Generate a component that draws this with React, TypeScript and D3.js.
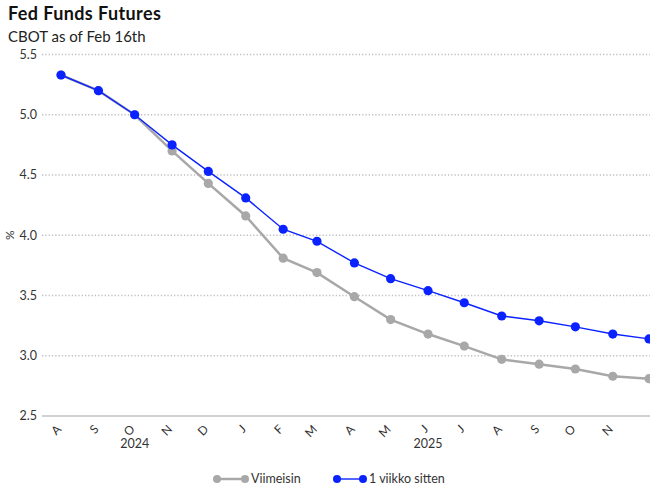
import React from "react";
import * as d3 from "d3";

// monthly contract dates (first of month)
const months = [
  "2024-08-01", "2024-09-01", "2024-10-01", "2024-11-01", "2024-12-01",
  "2025-01-01", "2025-02-01", "2025-03-01", "2025-04-01", "2025-05-01",
  "2025-06-01", "2025-07-01", "2025-08-01", "2025-09-01", "2025-10-01",
  "2025-11-01", "2025-12-01",
];

const latest = [
  5.33, 5.2, 5.0, 4.7, 4.43, 4.16, 3.81, 3.69, 3.49, 3.3, 3.18, 3.08, 2.97,
  2.93, 2.89, 2.83, 2.81,
];

const weekAgo = [
  5.33, 5.2, 5.0, 4.75, 4.53, 4.31, 4.05, 3.95, 3.77, 3.64, 3.54, 3.44, 3.33,
  3.29, 3.24, 3.18, 3.14,
];

const yTicks = [2.5, 3.0, 3.5, 4.0, 4.5, 5.0, 5.5];
const monthTicks = months.slice(0, 16);
const yearLabels = [
  { label: "2024", date: "2024-10-01" },
  { label: "2025", date: "2025-06-01" },
];

const seriesNames = ["Viimeisin", "1 viikko sitten"];
const GRAY = "#a8a8a8";
const BLUE = "#0a22ff";

const width = 666;
const height = 500;
const font = "Lato, 'Open Sans', sans-serif";

const parse = d3.timeParse("%Y-%m-%d");

export default function App() {
  const dates = months.map(d => parse(d) as Date);

  const x = d3.scaleTime()
    .domain([dates[0], dates[dates.length - 1]])
    .range([61, 649]);

  const y = d3.scaleLinear().domain([2.5, 5.5]).range([416, 54.5]);

  const line = d3.line<number>()
    .x((_, i) => x(dates[i]))
    .y(d => y(d));

  const monthFmt = d3.timeFormat("%b");

  return (
    <svg
      width={width}
      height={height}
      style={{ position: "absolute", left: 0, top: 0, fontFamily: font }}
    >
      <defs>
        <clipPath id="plot">
          <rect x={0} y={0} width={650} height={height} />
        </clipPath>
      </defs>

      <text x={8} y={20} fontSize={18} fontWeight={700} letterSpacing={0.4} fill="#111">
        Fed Funds Futures
      </text>
      <text x={8} y={42} fontSize={15} fill="#222">
        CBOT as of Feb 16th
      </text>

      {/* grid */}
      {yTicks.map(t => (
        <g key={t}>
          <line
            x1={42}
            x2={650}
            y1={y(t)}
            y2={y(t)}
            stroke={t === 2.5 ? "#d2d2d2" : "#c0c0c0"}
            strokeWidth={t === 2.5 ? 2 : 1.3}
            strokeDasharray={t === 2.5 ? undefined : "1.3,2"}
          />
          <text
            x={37}
            y={y(t)}
            dy="0.35em"
            textAnchor="end"
            fontSize={12.5}
            fill="#333"
          >
            {t.toFixed(1)}
          </text>
        </g>
      ))}

      <text
        transform={`translate(14,${y(4)}) rotate(-90)`}
        textAnchor="middle"
        fontSize={12}
        fill="#333"
      >
        %
      </text>

      {/* x axis */}
      {monthTicks.map(m => {
        const d = parse(m) as Date;
        return (
          <text
            key={m}
            transform={`translate(${x(d) + 1},430) rotate(-45)`}
            textAnchor="end"
            fontSize={12}
            fill="#333"
          >
            {monthFmt(d)[0]}
          </text>
        );
      })}
      {yearLabels.map(yl => (
        <text
          key={yl.label}
          x={x(parse(yl.date) as Date)}
          y={448}
          textAnchor="middle"
          fontSize={12.5}
          fill="#333"
        >
          {yl.label}
        </text>
      ))}

      {/* series */}
      <g clipPath="url(#plot)">
        <path d={line(latest) ?? ""} fill="none" stroke={GRAY} strokeWidth={2.5} />
        {latest.map((v, i) => (
          <circle key={i} cx={x(dates[i])} cy={y(v)} r={4.6} fill={GRAY} />
        ))}
        <path d={line(weekAgo) ?? ""} fill="none" stroke={BLUE} strokeWidth={1.4} />
        {weekAgo.map((v, i) => (
          <circle key={i} cx={x(dates[i])} cy={y(v)} r={4.6} fill={BLUE} />
        ))}
      </g>

      {/* legend */}
      <g fontSize={12.5} fill="#333">
        <line x1={217} x2={245} y1={479} y2={479} stroke={GRAY} strokeWidth={2.5} />
        <circle cx={217} cy={479} r={4} fill={GRAY} />
        <circle cx={245} cy={479} r={4} fill={GRAY} />
        <text x={251} y={479} dy="0.35em">{seriesNames[0]}</text>

        <line x1={337} x2={363} y1={479} y2={479} stroke={BLUE} strokeWidth={1.4} />
        <circle cx={337} cy={479} r={4} fill={BLUE} />
        <circle cx={363} cy={479} r={4} fill={BLUE} />
        <text x={369} y={479} dy="0.35em">{seriesNames[1]}</text>
      </g>
    </svg>
  );
}
